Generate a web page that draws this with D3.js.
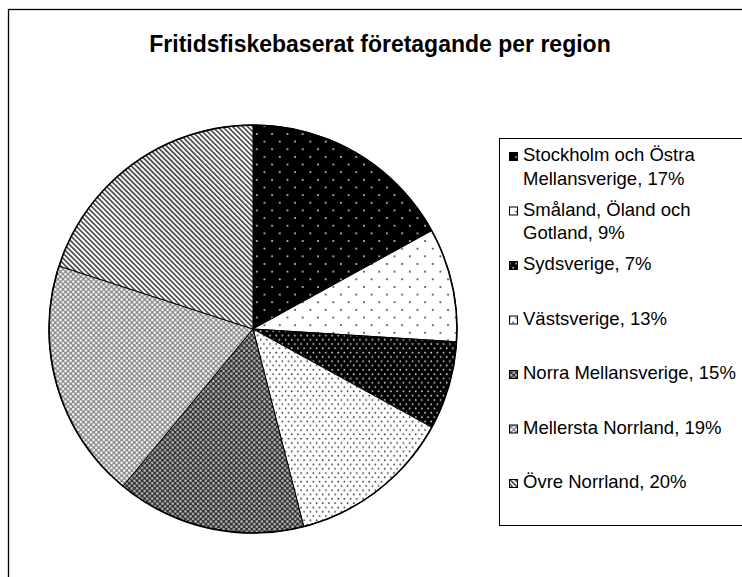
<!DOCTYPE html>
<html>
<head lang="sv">
<meta charset="UTF-8">
<title>Fritidsfiskebaserat företagande per region</title>
<style>
body { margin: 0; background: #fff; }
.title {
    font-family: "Liberation Sans", Arial, sans-serif;
    font-size: 23px;
    font-weight: bold;
}
.legend {
    font-family: "Liberation Sans", Arial, sans-serif;
    font-size: 18.5px;
}
</style>
<script src="https://d3js.org/d3.v7.min.js"></script>
</head>
<body>
<div id="vis"></div>
<script>

// data
var regions = ["Stockholm och Östra Mellansverige", "Småland, Öland och Gotland", "Sydsverige",
               "Västsverige", "Norra Mellansverige", "Mellersta Norrland", "Övre Norrland"];
var shares = [17, 9, 7, 13, 15, 19, 20];
var chartTitle = "Fritidsfiskebaserat företagande per region";

var width = 742, height = 577;
var cx = 253, cy = 329, r = 204;

var svg = d3.select("#vis").append("svg")
  .attr("width", width)
  .attr("height", height);

var defs = svg.append("defs");

// dotted patterns: bg colour, dot colour, tile w/h, dot radius
function dots(id, bg, fg, w, h, rad) {
  var p = defs.append("pattern")
    .attr("id", id)
    .attr("patternUnits", "userSpaceOnUse")
    .attr("width", w)
    .attr("height", h);
  p.append("rect").attr("width", w).attr("height", h).attr("fill", bg);
  p.append("circle").attr("cx", w/4).attr("cy", h/4).attr("r", rad).attr("fill", fg);
  p.append("circle").attr("cx", 3*w/4).attr("cy", 3*h/4).attr("r", rad).attr("fill", fg);
}

dots("p0", "#000", "#d8d8d8", 15.3, 15.3, 0.95);
dots("p1", "#fff", "#333", 15.3, 15.3, 0.95);
dots("p2", "#000", "#d8d8d8", 6.2, 8.6, 0.9);
dots("p3", "#fff", "#333", 6.2, 8.6, 0.85);
dots("p4", "#333", "#b4b4b4", 5.1, 5.1, 1.3);
dots("p5", "#8c8c8c", "#fff", 5.1, 5.1, 1.25);

// diagonal stripes, top-left to bottom-right
var st = defs.append("pattern")
  .attr("id", "p6")
  .attr("patternUnits", "userSpaceOnUse")
  .attr("width", 3.55)
  .attr("height", 3.55)
  .attr("patternTransform", "rotate(-45)");
st.append("rect").attr("width", 3.55).attr("height", 3.55).attr("fill", "#fff");
st.append("rect").attr("width", 1.7).attr("height", 3.55).attr("fill", "#4a4a4a");

var fills = ["p0", "p1", "p2", "p3", "p4", "p5", "p6"];

// chart area frame (cut off right and bottom)
svg.append("rect")
  .attr("x", 8.5)
  .attr("y", 9.5)
  .attr("width", 900)
  .attr("height", 800)
  .attr("fill", "#fff")
  .attr("stroke", "#000")
  .attr("stroke-width", 1.3);

svg.append("text")
  .attr("class", "title")
  .attr("x", 380)
  .attr("y", 52)
  .attr("text-anchor", "middle")
  .text(chartTitle);

// pie
var pie = d3.pie().sort(null).value(function(d) { return d; });
var arc = d3.arc().innerRadius(0).outerRadius(r);

var g = svg.append("g")
  .attr("transform", "translate(" + cx + "," + cy + ")");

g.selectAll(".slice")
  .data(pie(shares))
  .enter()
  .append("path")
  .attr("class", "slice")
  .attr("d", arc)
  .attr("fill", function(d, i) { return "url(#" + fills[i] + ")"; })
  .attr("stroke", "#000")
  .attr("stroke-width", 1)
  .attr("stroke-linejoin", "round");

g.append("circle")
  .attr("r", r)
  .attr("fill", "none")
  .attr("stroke", "#000")
  .attr("stroke-width", 1.6);

// legend
var lx = 499.5, ly = 138.5;
svg.append("rect")
  .attr("x", lx)
  .attr("y", ly)
  .attr("width", 300)
  .attr("height", 387)
  .attr("fill", "#fff")
  .attr("stroke", "#000")
  .attr("stroke-width", 1);

var step = 54.5, first = 161, lineH = 23.5, maxW = 216;

var item = svg.selectAll(".item")
  .data(regions)
  .enter()
  .append("g")
  .attr("class", "item")
  .attr("transform", function(d, i) { return "translate(0," + (first + i*step) + ")"; });

item.append("rect")
  .attr("x", 509.5)
  .attr("y", -8.5)
  .attr("width", 8)
  .attr("height", 8)
  .attr("fill", function(d, i) { return "url(#" + fills[i] + ")"; })
  .attr("stroke", "#000")
  .attr("stroke-width", 1);

item.append("text")
  .attr("class", "legend")
  .attr("x", 523)
  .attr("y", 0)
  .attr("fill", "#000")
  .each(function(d, i) {
    var words = (d + ", " + shares[i] + "%").split(" ");
    var text = d3.select(this);
    var line = [];
    var tspan = text.append("tspan").attr("x", 523).attr("dy", 0);
    words.forEach(function(w) {
      line.push(w);
      tspan.text(line.join(" "));
      if (tspan.node().getComputedTextLength() > maxW && line.length > 1) {
        line.pop();
        tspan.text(line.join(" "));
        line = [w];
        tspan = text.append("tspan").attr("x", 523).attr("dy", lineH).text(w);
      }
    });
  });

</script>
</body>
</html>
